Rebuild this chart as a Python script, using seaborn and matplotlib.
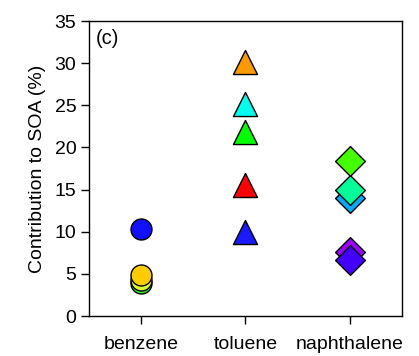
import matplotlib
matplotlib.use("Agg")
import matplotlib.pyplot as plt
import seaborn as sns
import pandas as pd

categories = ["benzene", "toluene", "naphthalene"]
benzene_vals = [3.9, 4.3, 4.9, 10.3]
benzene_colors = ["#33ee33", "#ddff33", "#ffcc00", "#1111ff"]
toluene_vals = [30.1, 25.1, 21.8, 15.5, 10.0]
toluene_colors = ["#ff9900", "#00ffee", "#00ff00", "#ff0000", "#1a1aff"]
naphthalene_vals = [14.0, 15.0, 18.4, 7.6, 6.6]
naphthalene_colors = ["#00aaff", "#00ff99", "#44ff00", "#9900ff", "#4400ff"]
yticks = [0, 5, 10, 15, 20, 25, 30, 35]

sns.set_style("ticks")
plt.rcParams["font.family"] = ["Liberation Sans", "DejaVu Sans"]
plt.rcParams["text.color"] = "black"
plt.rcParams["axes.labelcolor"] = "black"

rows = []
for cat, vals, cols in [("benzene", benzene_vals, benzene_colors),
                        ("toluene", toluene_vals, toluene_colors),
                        ("naphthalene", naphthalene_vals, naphthalene_colors)]:
    for i, (v, c) in enumerate(zip(vals, cols)):
        rows.append({"compound": cat, "value": v, "color": c, "order": i})
df = pd.DataFrame(rows)
df["x"] = df["compound"].map({c: i for i, c in enumerate(categories)})

fig = plt.figure(figsize=(4.19, 3.56), dpi=100)
ax = fig.add_axes([0.212, 0.112, 0.747, 0.829])

markers = {"benzene": ("o", 228), "toluene": ("^", 300), "naphthalene": ("D", 230)}
for _, r in df.iterrows():
    m, s = markers[r["compound"]]
    sns.scatterplot(x=[r["x"]], y=[r["value"]], marker=m, s=s, color=r["color"],
                    edgecolor="black", linewidth=1.0, ax=ax, legend=False, zorder=3)

ax.set_xlim(-0.5, 2.5)
ax.set_ylim(0, 35)
ax.set_xticks(range(len(categories)))
ax.set_xticklabels(categories, fontsize=14)
ax.set_yticks(yticks)
ax.set_yticklabels([str(t) for t in yticks], fontsize=14)
ax.set_xlabel("")
ax.set_ylabel("Contribution to SOA (%)", fontsize=14, labelpad=6, color="black")
ax.tick_params(direction="out", length=6, width=1, colors="black", pad=3)
ax.tick_params(axis="x", pad=8)
for sp in ax.spines.values():
    sp.set_visible(True)
    sp.set_color("black")
    sp.set_linewidth(1)
ax.text(0.022, 0.972, "(c)", transform=ax.transAxes, fontsize=14.5, va="top", ha="left",
        color="black")

fig.savefig("out.png", dpi=100)
